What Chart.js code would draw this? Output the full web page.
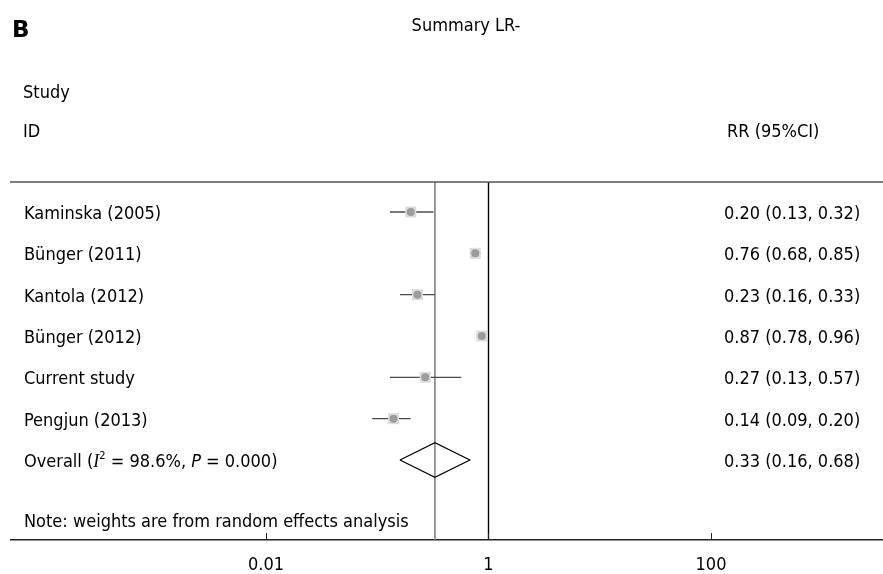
<!DOCTYPE html>
<html><head><meta charset="utf-8">
<script src="https://cdn.jsdelivr.net/npm/chart.js@4/dist/chart.umd.min.js"></script>
<style>html,body{margin:0;padding:0;background:#fff;overflow:hidden}#wrap{width:883px;height:574px;position:relative}</style>
</head><body><div id="wrap"><canvas id="c" width="883" height="574"></canvas></div>
<script>
// ---- data ----
const studies = ['Kaminska (2005)', 'Bünger (2011)', 'Kantola (2012)', 'Bünger (2012)', 'Current study', 'Pengjun (2013)'];
const rr    = [0.20, 0.76, 0.23, 0.87, 0.27, 0.14];
const lower = [0.13, 0.68, 0.16, 0.78, 0.13, 0.09];
const upper = [0.32, 0.85, 0.33, 0.96, 0.57, 0.20];
const overallRR = 0.33;
const overallLower = 0.16;
const overallUpper = 0.68;
const overallI2 = '98.6%';
const overallP = '0.000';
const tickValues = [0.01, 1, 100];
const tickLabels = ['0.01', '1', '100'];
const titleText = 'Summary LR-';
const panelLetter = 'B';
const noteText = 'Note: weights are from random effects analysis';

// ---- layout constants ----
const FONT = "'DejaVu Sans Condensed', 'DejaVu Sans', sans-serif";
const FS = 18;
const Y_MIN = 0.274, Y_MAX = 8.936;
const X_MIN = Math.pow(10, -4.292), X_MAX = Math.pow(10, 3.546);
const overallRow = studies.length + 1;
const DIAMOND_H = 0.42;

const datasets = [];
// dots
datasets.push({
  data: rr.map((v, i) => ({x: v, y: i + 1})),
  pointStyle: 'circle', pointRadius: 4, backgroundColor: '#9c9c9c', borderWidth: 0, order: 0
});
// squares
datasets.push({
  data: rr.map((v, i) => ({x: v, y: i + 1})),
  pointStyle: 'rect', pointRadius: 7.8, backgroundColor: '#dcdcdc', borderWidth: 0, order: 1
});
// CI lines
studies.forEach((s, i) => {
  datasets.push({
    data: [{x: lower[i], y: i + 1}, {x: upper[i], y: i + 1}],
    showLine: true, borderColor: '#4a4a4a', borderWidth: 1.3, pointRadius: 0, order: 2
  });
});
// overall diamond
datasets.push({
  data: [
    {x: overallLower, y: overallRow},
    {x: overallRR, y: overallRow - DIAMOND_H},
    {x: overallUpper, y: overallRow},
    {x: overallRR, y: overallRow + DIAMOND_H},
    {x: overallLower, y: overallRow}
  ],
  showLine: true, borderColor: '#000', borderWidth: 1.2, pointRadius: 0, fill: false, order: 2
});
// vertical lines: null line and overall estimate
datasets.push({
  data: [{x: 1, y: Y_MIN}, {x: 1, y: Y_MAX}],
  showLine: true, borderColor: '#000', borderWidth: 1.4, pointRadius: 0, order: 3
});
datasets.push({
  data: [{x: overallRR, y: Y_MIN}, {x: overallRR, y: Y_MAX}],
  showLine: true, borderColor: '#808080', borderWidth: 1.6, pointRadius: 0, order: 3
});

const textPlugin = {
  id: 'forestText',
  afterDraw(chart) {
    const ctx = chart.ctx;
    const ca = chart.chartArea;
    const xs = chart.scales.x, ys = chart.scales.y;
    ctx.save();
    // top rule
    ctx.strokeStyle = '#555';
    ctx.lineWidth = 1.3;
    ctx.beginPath(); ctx.moveTo(10, ca.top); ctx.lineTo(chart.width, ca.top); ctx.stroke();
    // inward tick marks
    ctx.strokeStyle = '#222';
    ctx.lineWidth = 1;
    xs.ticks.forEach(t => {
      const px = Math.round(xs.getPixelForValue(t.value)) + 0.5;
      ctx.beginPath(); ctx.moveTo(px, ca.bottom - 7); ctx.lineTo(px, ca.bottom); ctx.stroke();
    });

    ctx.fillStyle = '#000';
    ctx.textBaseline = 'alphabetic';
    // panel letter
    ctx.font = "bold 23px 'DejaVu Sans', sans-serif";
    ctx.textAlign = 'left';
    ctx.fillText(panelLetter, 12, 37);
    // title
    ctx.font = FS + 'px ' + FONT;
    ctx.textAlign = 'center';
    ctx.fillText(titleText, 466, 31);
    // headers
    ctx.textAlign = 'left';
    ctx.fillText('Study', 23, 97.5);
    ctx.fillText('ID', 23, 136.5);
    ctx.fillText('RR (95%CI)', 727, 137);
    // study rows
    studies.forEach((s, i) => {
      const py = ys.getPixelForValue(i + 1);
      ctx.fillText(s, 24, py + 7);
      ctx.fillText(rr[i].toFixed(2) + ' (' + lower[i].toFixed(2) + ', ' + upper[i].toFixed(2) + ')', 724, py + 7);
    });
    // overall row
    const oy = ys.getPixelForValue(overallRow) + 7;
    let x = 24;
    const part = (txt, font, dy) => {
      ctx.font = font;
      ctx.fillText(txt, x, oy + (dy || 0));
      x += ctx.measureText(txt).width;
    };
    const norm = FS + 'px ' + FONT;
    part('Overall (', norm);
    part('I', "italic " + FS + "px 'Liberation Serif', serif");
    part('2', "11px " + FONT, -8);
    part(' = ' + overallI2 + ', ', norm);
    part('P', 'italic ' + FS + 'px ' + FONT);
    part(' = ' + overallP + ')', norm);
    ctx.font = norm;
    ctx.fillText(overallRR.toFixed(2) + ' (' + overallLower.toFixed(2) + ', ' + overallUpper.toFixed(2) + ')', 724, oy);
    // note
    ctx.fillText(noteText, 24, 527);
    ctx.restore();
  }
};

new Chart(document.getElementById('c'), {
  type: 'scatter',
  data: {datasets},
  options: {
    responsive: false,
    animation: false,
    devicePixelRatio: 1,
    layout: {autoPadding: false, padding: {left: 11, right: 0, top: 182, bottom: 0}},
    plugins: {legend: {display: false}, tooltip: {enabled: false}},
    scales: {
      x: {
        type: 'logarithmic',
        position: 'bottom',
        min: X_MIN, max: X_MAX,
        afterBuildTicks: s => { s.ticks = tickValues.map(v => ({value: v})); },
        afterFit: s => { s.height = 34; },
        ticks: {
          callback: (v, i) => tickLabels[i],
          font: {family: FONT, size: FS},
          color: '#000', padding: 15, maxRotation: 0, autoSkip: false
        },
        grid: {drawOnChartArea: false, drawTicks: false},
        border: {display: true, color: '#222', width: 1.5}
      },
      y: {display: false, min: Y_MIN, max: Y_MAX, reverse: true}
    }
  },
  plugins: [textPlugin]
});
</script>
</body></html>
